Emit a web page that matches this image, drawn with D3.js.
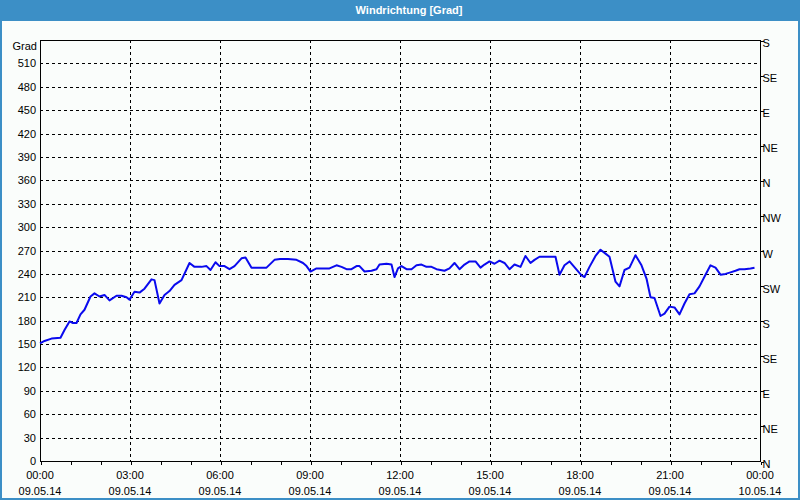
<!DOCTYPE html>
<html><head><meta charset="utf-8">
<script src="https://cdn.jsdelivr.net/npm/d3@7"></script>
<style>
html,body{margin:0;padding:0;background:#fff;}
svg{display:block;}
text{font-family:"Liberation Sans",Arial,sans-serif;font-size:11px;fill:#000;}
</style></head>
<body>
<script>
// ---- data ----
const title = "Windrichtung [Grad]";
const yUnit = "Grad";
const startDate = "2014-05-09 00:00";
const endDate = "2014-05-10 00:00";
// minutes after 09.05.14 00:00
const minutes = [0,9,23,41,49,59,66,73,81,89,101,109,119,129,139,153,163,173,179,189,199,209,223,229,239,249,259,269,283,299,309,323,333,341,351,359,369,379,389,403,411,423,436,453,469,480,
486,496,513,526,533,541,553,579,593,603,613,623,633,639,649,663,673,679,693,703,709,716,723,733,743,753,763,773,783,793,809,819,829,839,849,859,871,881,889,899,909,919,929,939,949,
961,971,981,989,999,1031,1039,1049,1059,1071,1083,1089,1099,1111,1121,1131,1139,1151,1159,1169,1179,1191,1203,1213,1221,1229,1241,1249,1259,1269,1279,1289,1299,1309,1319,1331,1341,1351,1361,1371,1381,1391,1399,1409,1421,1429];
const degrees = [151,154,157,158,168,179,177,177,188,194,211,215,211,213,206,212,212,210,207,217,216,221,233,232,202,213,218,226,232,254,249,249,250,245,255,250,250,246,250,260,261,248,248,248,258,259,
259,259,258,254,250,243,247,247,251,249,246,246,250,250,243,244,246,252,253,252,236,247,250,246,246,251,252,249,249,246,244,247,254,246,252,256,256,248,252,256,253,257,254,246,252,
249,263,254,258,262,262,239,251,256,247,238,236,249,263,271,266,262,230,224,245,248,264,251,234,210,209,186,189,198,197,188,202,214,215,224,239,251,248,239,240,242,244,246,246,247,248];
const yTicks = [0,30,60,90,120,150,180,210,240,270,300,330,360,390,420,450,480,510];
const compassValues = [0,45,90,135,180,225,270,315,360,405,450,495,540];
const compassLabels = ["N","NE","E","SE","S","SW","W","NW","N","NE","E","SE","S"];

// ---- layout ----
const W = 800, H = 500;
const L = 40, R = 760, T = 40, B = 461;
const parse = d3.timeParse("%Y-%m-%d %H:%M");
const t0 = parse(startDate), t1 = parse(endDate);

const svg = d3.select("body").append("svg").attr("width", W).attr("height", H);

// frame + background
svg.append("rect").attr("x",0).attr("y",0).attr("width",W).attr("height",H).attr("fill","#fafdfb");
svg.append("rect").attr("x",0).attr("y",0).attr("width",W).attr("height",20).attr("fill","#3c8fc6");
svg.append("rect").attr("x",0.5).attr("y",0.5).attr("width",W-1).attr("height",H-1)
  .attr("fill","none").attr("stroke","#3c8fc6").attr("stroke-width",1);
svg.append("rect").attr("x",1.5).attr("y",20.5).attr("width",W-3).attr("height",H-22)
  .attr("fill","none").attr("stroke","#3c8fc6").attr("stroke-width",1);
svg.append("text").attr("x",409).attr("y",14).attr("text-anchor","middle")
  .style("fill","#fff").style("font-weight","bold").text(title);

const x = d3.scaleTime().domain([t0, t1]).range([L, R]);
const y = d3.scaleLinear().domain([0, 540]).range([B, T]);
const px = v => Math.round(v) + 0.5;

// grid
const g = svg.append("g").attr("shape-rendering","crispEdges");
g.selectAll(".hg").data(yTicks.filter(d => d > 0)).enter().append("line")
  .attr("x1", L).attr("x2", R).attr("y1", d => px(y(d))).attr("y2", d => px(y(d)))
  .attr("stroke","#000").attr("stroke-dasharray","3,3");
const majorTimes = d3.timeHour.every(3).range(t0, t1).filter(d => +d > +t0);
g.selectAll(".vg").data(majorTimes).enter().append("line")
  .attr("x1", d => px(x(d))).attr("x2", d => px(x(d))).attr("y1", T).attr("y2", B)
  .attr("stroke","#000").attr("stroke-dasharray","3,3");

// plot border
g.append("rect").attr("x", L + 0.5).attr("y", T + 0.5).attr("width", R - L).attr("height", B - T)
  .attr("fill","none").attr("stroke","#000");

// x axis
const xAxis = d3.axisBottom(x).ticks(d3.timeHour.every(1)).tickSize(3).tickFormat("");
const xg = svg.append("g").attr("transform", `translate(0.5,${B + 0.5})`).call(xAxis);
xg.select(".domain").remove();
xg.selectAll("line").attr("stroke","#000").attr("shape-rendering","crispEdges");
const labTimes = d3.timeHour.every(3).range(t0, d3.timeMinute.offset(t1, 1));
const fTime = d3.timeFormat("%H:%M"), fDate = d3.timeFormat("%d.%m.%y");
const xl = svg.append("g");
xl.selectAll(".xt").data(labTimes).enter().append("text")
  .attr("x", d => x(d)).attr("y", 479).attr("text-anchor","middle").text(d => fTime(d));
xl.selectAll(".xd").data(labTimes).enter().append("text")
  .attr("x", d => x(d)).attr("y", 495).attr("text-anchor","middle").text(d => fDate(d));

// left axis labels
const yl = svg.append("g");
yl.selectAll(".yt").data(yTicks).enter().append("text")
  .attr("x", 36).attr("y", d => y(d) + 4).attr("text-anchor","end").text(d => d);
yl.append("text").attr("x", 37).attr("y", 50).attr("text-anchor","end").text(yUnit);

// right axis (compass)
const rAxis = d3.axisRight(y).tickValues(compassValues).tickSize(3)
  .tickFormat((d, i) => compassLabels[i]);
const rg = svg.append("g").attr("transform", `translate(${R + 0.5},0.5)`).call(rAxis);
rg.select(".domain").remove();
rg.selectAll("line").attr("stroke","#000").attr("shape-rendering","crispEdges");
rg.selectAll("text").attr("x", 2).attr("dy","0.55em")
  .style("font-family","Liberation Sans, Arial, sans-serif").style("font-size","11px");

// data line
const pts = minutes.map((m, i) => ({t: d3.timeMinute.offset(t0, m), v: degrees[i]}));
const line = d3.line().x(d => x(d.t)).y(d => y(d.v));
svg.append("path").datum(pts).attr("d", line)
  .attr("fill","none").attr("stroke","#0a0aee").attr("stroke-width",2).attr("stroke-linejoin","round");
</script>
</body></html>
